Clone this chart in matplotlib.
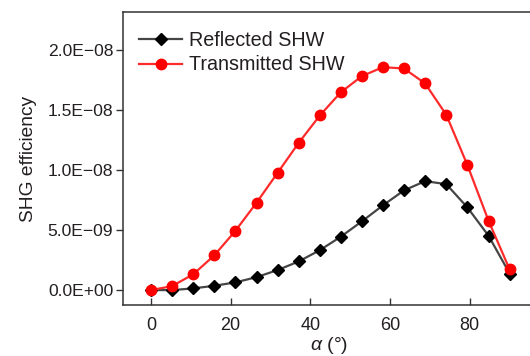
import numpy as np
import matplotlib
matplotlib.use("Agg")
import matplotlib.pyplot as plt
from matplotlib.ticker import FuncFormatter

plt.rcParams['font.family'] = ['Liberation Sans', 'DejaVu Sans']
plt.rcParams['mathtext.fontset'] = 'custom'
plt.rcParams['mathtext.it'] = 'Liberation Sans:italic'
plt.rcParams['mathtext.rm'] = 'Liberation Sans'

# incidence angle (deg)
alpha = [0, 5.3, 10.6, 15.9, 21.2, 26.5, 31.8, 37.1, 42.4, 47.6,
         52.9, 58.2, 63.5, 68.8, 74.1, 79.4, 84.7, 90]

# SHG efficiency, in units of 1e-9
reflected = [0.0, 0.0, 0.14, 0.36, 0.64, 1.08, 1.67, 2.39, 3.33, 4.44,
             5.72, 7.06, 8.31, 9.08, 8.83, 6.89, 4.53, 1.38]
transmitted = [0.0, 0.33, 1.31, 2.89, 4.94, 7.28, 9.78, 12.28, 14.56, 16.47,
               17.83, 18.58, 18.47, 17.22, 14.61, 10.42, 5.78, 1.72]

refl = np.array(reflected) * 1e-9
trans = np.array(transmitted) * 1e-9

txt = '#231f20'
fig = plt.figure(figsize=(5.3, 3.56), dpi=100)
ax = fig.add_axes([0.232, 0.143, 0.777, 0.823])

ax.plot(alpha, refl, color='#454545', lw=1.6, marker='D', ms=6.5,
        mfc='black', mec='black', label='Reflected SHW')
ax.plot(alpha, trans, color='#ff2a2a', lw=1.6, marker='o', ms=7.5,
        mfc='#ff0000', mec='#ff0000', label='Transmitted SHW')

ax.set_xlim(-7, 96.3)
ax.set_ylim(-0.125e-8, 2.317e-8)
ax.set_xticks([0, 20, 40, 60, 80])
ax.set_yticks([0, 0.5e-8, 1.0e-8, 1.5e-8, 2.0e-8])

def sci(v, pos):
    return f"{v:.1E}".replace('-', '\u2212')

ax.yaxis.set_major_formatter(FuncFormatter(sci))

for s in ax.spines.values():
    s.set_color('#333333')
    s.set_linewidth(1.1)
ax.spines['right'].set_visible(False)

ax.tick_params(axis='x', direction='in', length=5, width=1, colors='#333333',
               labelcolor=txt, labelsize=13, pad=8.5)
ax.tick_params(axis='y', direction='out', length=5, width=1, colors='#333333',
               labelcolor=txt, labelsize=12.6, pad=2)

ax.set_xlabel(r'$\it{\alpha}$ (°)', fontsize=14, color=txt, labelpad=0.5)
ax.set_ylabel('SHG efficiency', fontsize=13.8, color=txt, labelpad=8)

leg = ax.legend(loc='upper left', frameon=False, fontsize=14.2,
                handlelength=2.15, handletextpad=0.35, labelspacing=0.27,
                borderaxespad=0.0, borderpad=0.0,
                bbox_to_anchor=(0.04, 0.935))
for t in leg.get_texts():
    t.set_color(txt)

fig.savefig('out.png', dpi=100)
